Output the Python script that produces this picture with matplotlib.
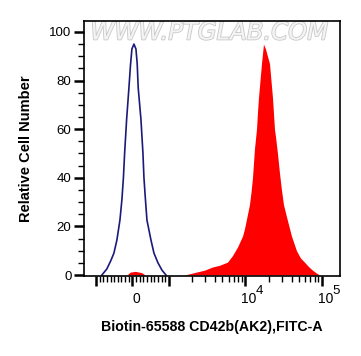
import matplotlib
matplotlib.use('Agg')
import matplotlib.pyplot as plt
import numpy as np
from matplotlib.ticker import FixedLocator, NullFormatter
from matplotlib.transforms import blended_transform_factory, offset_copy
import matplotlib.patheffects as pe

plt.rcParams['font.family'] = ['Liberation Sans', 'DejaVu Sans']

# control (isotype) histogram, blue outline
ctrl_x = [-836, -700, -589, -507, -425, -342, -288, -247, -214, -159, -96, -55, -14, 41,
          96, 130, 158, 233, 288, 315, 356, 397, 507, 589, 699, 808, 918]
ctrl_y = [0, 2.5, 6, 9, 14.4, 22.6, 31, 40, 50, 64, 77, 86, 93, 95,
          93, 87, 77, 64, 50, 40, 31, 22.6, 14.4, 9, 5, 2, 0]

# stained sample, red fill
stain_x = [1594, 2288, 2911, 3703, 4571, 5816, 6761, 7860, 9137, 9703, 10306,
           10782, 11278, 11800, 12343, 12720, 13113, 13926, 14353, 14792, 15470, 16190,
           17190, 18260, 19390, 20596, 22540, 23940, 24670, 26200, 27820,
           29550, 31380, 34350, 39940, 46420, 52360, 59040, 66600, 75130, 84730, 92680]
stain_y = [0, 1.2, 2, 3.3, 4, 5.3, 8, 11.5, 16, 19, 23,
           26, 29, 34, 40, 46, 52, 60, 67, 73, 80, 87,
           95, 93, 90, 87, 73, 60, 57, 50, 42,
           35, 29, 24, 16, 10, 7, 5.3, 3.5, 2, 0.8, 0]
# small red bump near zero
bump_x = [-150, -60, 80, 250, 350]
bump_y = [0, 1.2, 1.5, 1.0, 0]

xticks = [-1000, 0, 1000, 10000, 100000]
xlabel_pos = [0, 10000, 100000]
xlabel_base = ['0', '10', '10']
xlabel_exp = ['', '4', '5']

fig = plt.figure(figsize=(3.61, 3.56), dpi=100)
ax = fig.add_axes([84 / 361, 1 - 276 / 356, 256 / 361, 255 / 356])
ax.set_xscale('symlog', linthresh=1000, linscale=0.43)

ax.fill_between(stain_x, stain_y, 0, color='#ff0000', lw=0)
ax.fill_between(bump_x, bump_y, 0, color='#ff0000', lw=0)
ax.plot(ctrl_x, ctrl_y, color='#1a1a7a', lw=1.2)

ax.set_xlim(-1430, 172000)
ax.set_ylim(-0.4, 104.5)

minor = list(range(-900, 1000, 100))
for dec in [1000, 10000]:
    minor += [dec * k for k in range(2, 10)]
ax.xaxis.set_major_locator(FixedLocator(xticks))
ax.xaxis.set_major_formatter(NullFormatter())
ax.xaxis.set_minor_locator(FixedLocator(minor))
ax.set_yticks([0, 20, 40, 60, 80, 100])
ax.set_yticks(np.arange(0, 105, 5), minor=True)

ax.tick_params(which='major', direction='out', length=7, width=1.8, labelsize=9.5,
               colors='black', pad=2)
ax.tick_params(which='minor', direction='out', length=4, width=1)
for s in ax.spines.values():
    s.set_linewidth(1.2)

# x tick labels: "10" with a full-size raised exponent, like the cytometer export
trans = blended_transform_factory(ax.transData, ax.transAxes)
for xv, base, ex in zip(xlabel_pos, xlabel_base, xlabel_exp):
    dx = 3.5
    t = offset_copy(trans, fig=fig, x=dx, y=-23, units='dots')
    ax.text(xv, 0, base, transform=t, ha='center', va='center', fontsize=10)
    if ex:
        t2 = offset_copy(trans, fig=fig, x=10.5, y=-15, units='dots')
        ax.text(xv, 0, ex, transform=t2, ha='left', va='center', fontsize=9.5)

ax.set_xlabel('Biotin-65588 CD42b(AK2),FITC-A', fontsize=10.2, fontweight='bold', labelpad=23)
ax.set_ylabel('Relative Cell Number', fontsize=10.5, fontweight='bold', labelpad=12)

ax.text(0.025, 0.955, 'WWW.PTGLAB.COM', transform=ax.transAxes, ha='left', va='center',
        fontsize=17.5, color='#f4f4f4', style='italic', family='DejaVu Sans', zorder=0,
        path_effects=[pe.withStroke(linewidth=1.2, foreground='#c8c8c8')])

fig.savefig('out.png', dpi=100)
